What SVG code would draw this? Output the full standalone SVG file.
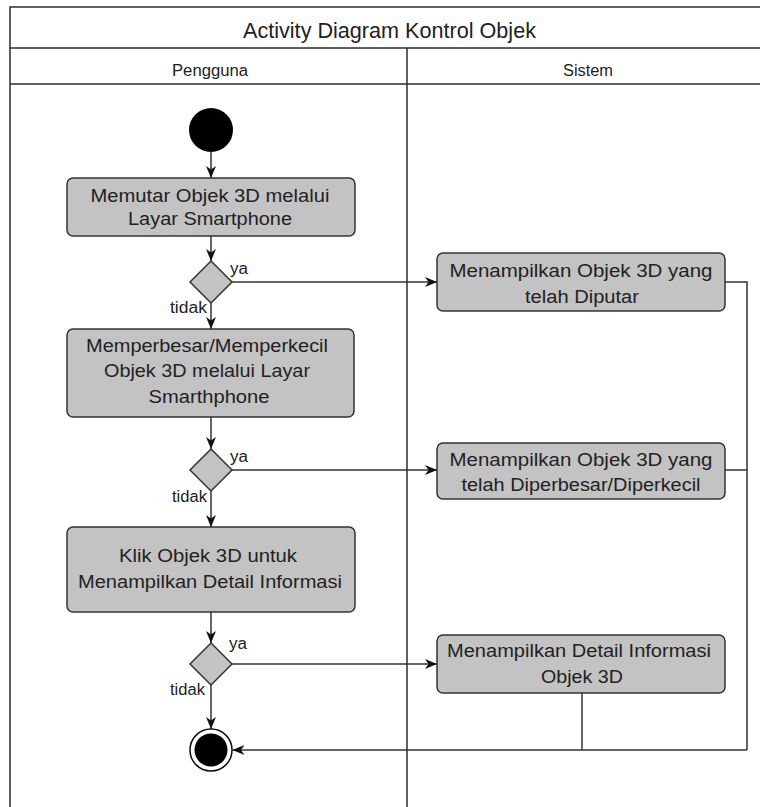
<svg xmlns="http://www.w3.org/2000/svg" width="760" height="807" viewBox="0 0 760 807">
  <style>
    .frame { fill: none; stroke: #2b2b2b; stroke-width: 1.5; }
    .action { fill: #c3c3c3; stroke: #333333; stroke-width: 1.5; }
    .decision { fill: #c3c3c3; stroke: #333333; stroke-width: 1.5; }
    .edge { fill: none; stroke: #333333; stroke-width: 1.5; }
    .arrow { marker-end: url(#head); }
    text { font-family: "Liberation Sans", Arial, sans-serif; fill: #222222; text-anchor: middle; }
    .title { font-size: 21.5px; }
    .lane { font-size: 16px; }
    .lbl { font-size: 17.5px; }
    .guard { font-size: 16px; text-anchor: start; }
  </style>
  <defs>
    <marker id="head" viewBox="0 0 12 10" refX="12" refY="5" markerWidth="12" markerHeight="10" markerUnits="userSpaceOnUse" orient="auto">
      <path d="M12,5 L0,0 L3.5,5 L0,10 Z" fill="#111111"/>
    </marker>
  </defs>

  <rect width="760" height="807" fill="#ffffff"/>

  <!-- swimlane frame -->
  <g id="swimlanes">
    <rect class="frame" x="10" y="7" width="759" height="820"/>
    <line class="frame" x1="10" y1="48" x2="769" y2="48"/>
    <line class="frame" x1="10" y1="84" x2="769" y2="84"/>
    <line class="frame" x1="407" y1="48" x2="407" y2="827"/>
    <text class="title" x="389.5" y="38" textLength="293" lengthAdjust="spacingAndGlyphs">Activity Diagram Kontrol Objek</text>
    <text class="lane" x="210" y="75.5" textLength="76" lengthAdjust="spacingAndGlyphs">Pengguna</text>
    <text class="lane" x="588" y="75.5" textLength="50" lengthAdjust="spacingAndGlyphs">Sistem</text>
  </g>

  <!-- connectors -->
  <g id="connectors">
    <line class="edge arrow" x1="211" y1="152" x2="211" y2="178"/>
    <line class="edge arrow" x1="211" y1="236" x2="211" y2="261"/>
    <line class="edge arrow" x1="211" y1="303" x2="211" y2="329"/>
    <line class="edge arrow" x1="232" y1="282" x2="437" y2="282"/>
    <line class="edge arrow" x1="211" y1="417" x2="211" y2="449"/>
    <line class="edge arrow" x1="211" y1="491" x2="211" y2="527"/>
    <line class="edge arrow" x1="232" y1="470" x2="437" y2="470"/>
    <line class="edge arrow" x1="211" y1="612" x2="211" y2="643"/>
    <line class="edge arrow" x1="211" y1="685" x2="211" y2="729"/>
    <line class="edge arrow" x1="232" y1="664" x2="437" y2="664"/>
    <polyline class="edge" points="725,282 747,282 747,750"/>
    <line class="edge" x1="725" y1="470" x2="747" y2="470"/>
    <line class="edge" x1="582" y1="693" x2="582" y2="750"/>
    <line class="edge arrow" x1="747" y1="750" x2="232.5" y2="750"/>
  </g>

  <g id="start">
    <circle cx="211" cy="130" r="22" fill="#000000"/>
  </g>

  <g id="memutar">
    <rect class="action" x="67" y="178" width="288" height="58" rx="6"/>
    <text class="lbl" x="210" y="202" textLength="239" lengthAdjust="spacingAndGlyphs">Memutar Objek 3D melalui</text>
    <text class="lbl" x="210" y="225" textLength="164" lengthAdjust="spacingAndGlyphs">Layar Smartphone</text>
  </g>

  <g id="decision-putar">
    <polygon class="decision" points="211,261 232,282 211,303 190,282"/>
    <text class="guard" x="230" y="274" textLength="18" lengthAdjust="spacingAndGlyphs">ya</text>
    <text class="guard" x="170" y="313" textLength="37" lengthAdjust="spacingAndGlyphs">tidak</text>
  </g>

  <g id="tampil-putar">
    <rect class="action" x="437" y="253" width="288" height="58" rx="6"/>
    <text class="lbl" x="581" y="277" textLength="263" lengthAdjust="spacingAndGlyphs">Menampilkan Objek 3D yang</text>
    <text class="lbl" x="582" y="302.5" textLength="114" lengthAdjust="spacingAndGlyphs">telah Diputar</text>
  </g>

  <g id="zoom">
    <rect class="action" x="67" y="329" width="287" height="88" rx="6"/>
    <text class="lbl" x="207" y="351.5" textLength="242" lengthAdjust="spacingAndGlyphs">Memperbesar/Memperkecil</text>
    <text class="lbl" x="207" y="377" textLength="206" lengthAdjust="spacingAndGlyphs">Objek 3D melalui Layar</text>
    <text class="lbl" x="209" y="402.5" textLength="121" lengthAdjust="spacingAndGlyphs">Smarthphone</text>
  </g>

  <g id="decision-zoom">
    <polygon class="decision" points="211,449 232,470 211,491 190,470"/>
    <text class="guard" x="230" y="462" textLength="18" lengthAdjust="spacingAndGlyphs">ya</text>
    <text class="guard" x="172" y="502" textLength="35" lengthAdjust="spacingAndGlyphs">tidak</text>
  </g>

  <g id="tampil-zoom">
    <rect class="action" x="437" y="443" width="288" height="56" rx="6"/>
    <text class="lbl" x="581" y="466" textLength="263" lengthAdjust="spacingAndGlyphs">Menampilkan Objek 3D yang</text>
    <text class="lbl" x="581" y="491" textLength="239" lengthAdjust="spacingAndGlyphs">telah Diperbesar/Diperkecil</text>
  </g>

  <g id="klik">
    <rect class="action" x="67" y="527" width="288" height="85" rx="6"/>
    <text class="lbl" x="208" y="561.5" textLength="178" lengthAdjust="spacingAndGlyphs">Klik Objek 3D untuk</text>
    <text class="lbl" x="210" y="587.5" textLength="264" lengthAdjust="spacingAndGlyphs">Menampilkan Detail Informasi</text>
  </g>

  <g id="decision-klik">
    <polygon class="decision" points="211,643 232,664 211,685 190,664"/>
    <text class="guard" x="229" y="649" textLength="18" lengthAdjust="spacingAndGlyphs">ya</text>
    <text class="guard" x="170" y="695" textLength="35" lengthAdjust="spacingAndGlyphs">tidak</text>
  </g>

  <g id="tampil-detail">
    <rect class="action" x="437" y="635" width="288" height="58" rx="6"/>
    <text class="lbl" x="579" y="657" textLength="264" lengthAdjust="spacingAndGlyphs">Menampilkan Detail Informasi</text>
    <text class="lbl" x="582" y="682.5" textLength="82" lengthAdjust="spacingAndGlyphs">Objek 3D</text>
  </g>

  <g id="end">
    <circle cx="211" cy="750" r="21" fill="#ffffff" stroke="#111111" stroke-width="1.5"/>
    <circle cx="211" cy="750" r="16.5" fill="#000000"/>
  </g>
</svg>
